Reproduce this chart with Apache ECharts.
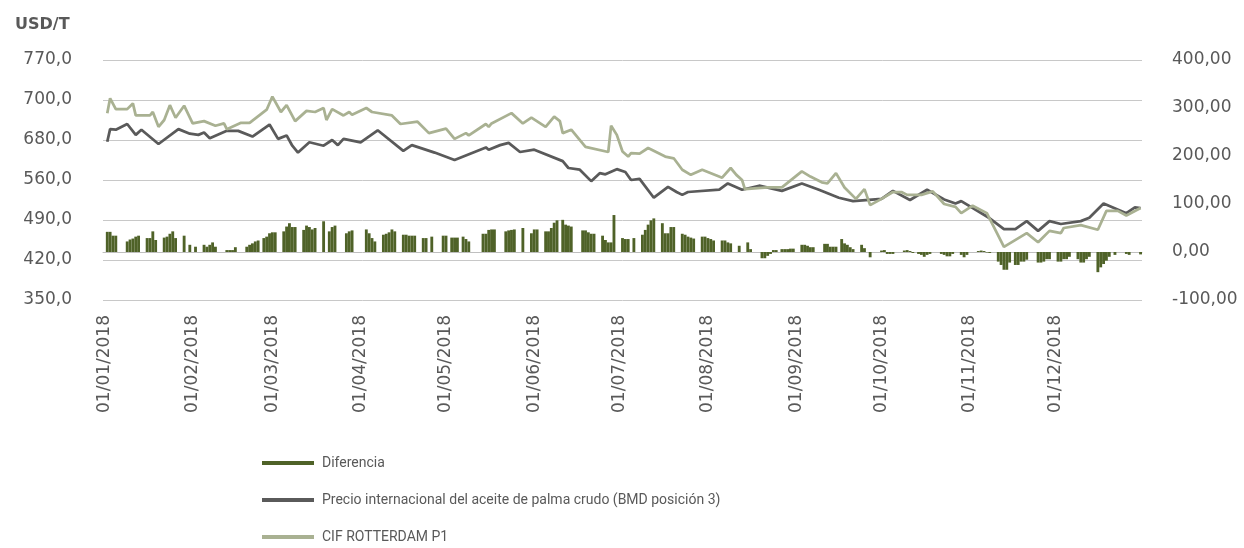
<!DOCTYPE html>
<html>
<head>
<meta charset="utf-8">
<script src="https://cdn.jsdelivr.net/npm/echarts@6/dist/echarts.min.js"></script>
<style>
  html, body { margin: 0; padding: 0; background: #fff; }
  #chart { width: 1244px; height: 548px; }
</style>
</head>
<body>
<div id="chart"></div>
<script>
// tick labels as printed on the original chart
const leftTickLabels = ['350,0', '420,0', '490,0', '560,0', '680,0', '700,0', '770,0']
const rightTickLabels = ['-100,00', '0,00', '100,00', '200,00', '300,00', '400,00']

// CIF ROTTERDAM P1 (USD/T)
const cifRotterdam = [
  ['02/01', 677], ['03/01', 703], ['05/01', 684], ['09/01', 684], ['11/01', 694], ['12/01', 673],
  ['17/01', 673], ['18/01', 679], ['20/01', 653], ['22/01', 665], ['24/01', 691], ['26/01', 669],
  ['29/01', 690], ['01/02', 659], ['05/02', 663], ['09/02', 655], ['12/02', 659], ['13/02', 649],
  ['18/02', 660], ['21/02', 660], ['27/02', 683], ['01/03', 706], ['04/03', 679], ['06/03', 691],
  ['09/03', 663], ['13/03', 681], ['16/03', 679], ['19/03', 686], ['20/03', 665], ['22/03', 684],
  ['26/03', 673], ['28/03', 679], ['29/03', 674], ['03/04', 686], ['05/04', 679], ['12/04', 673],
  ['15/04', 658], ['21/04', 662], ['25/04', 642], ['01/05', 650], ['04/05', 632], ['08/05', 642],
  ['09/05', 638], ['15/05', 658], ['16/05', 653], ['17/05', 659], ['24/05', 677], ['28/05', 659],
  ['31/05', 669], ['05/06', 653], ['08/06', 671], ['10/06', 663], ['11/06', 642], ['14/06', 648],
  ['19/06', 618], ['27/06', 609], ['28/06', 655], ['30/06', 639], ['02/07', 610], ['04/07', 601],
  ['05/07', 607], ['08/07', 606], ['11/07', 616], ['17/07', 601], ['20/07', 598], ['23/07', 578],
  ['26/07', 569], ['30/07', 578], ['06/08', 564], ['09/08', 581], ['11/08', 569], ['13/08', 560],
  ['14/08', 544], ['22/08', 547], ['27/08', 547], ['03/09', 575], ['06/09', 566], ['10/09', 556],
  ['12/09', 554], ['15/09', 572], ['18/09', 547], ['22/09', 527], ['25/09', 544], ['27/09', 516],
  ['01/10', 527], ['05/10', 539], ['08/10', 539], ['10/10', 534], ['15/10', 534], ['19/10', 540],
  ['23/10', 518], ['27/10', 513], ['29/10', 502], ['02/11', 515], ['07/11', 502], ['13/11', 443],
  ['21/11', 467], ['25/11', 451], ['29/11', 471], ['03/12', 467], ['04/12', 476], ['10/12', 481],
  ['16/12', 473], ['19/12', 506], ['23/12', 506], ['26/12', 498], ['31/12', 511]
]

// Precio internacional del aceite de palma crudo (BMD posicion 3) (USD/T)
const bmdPrecio = [
  ['02/01', 627], ['03/01', 649], ['05/01', 648], ['09/01', 658], ['12/01', 639], ['14/01', 648],
  ['20/01', 623], ['27/01', 649], ['31/01', 641], ['03/02', 639], ['05/02', 643], ['07/02', 633],
  ['13/02', 646], ['17/02', 646], ['22/02', 636], ['28/02', 657], ['03/03', 632], ['06/03', 638],
  ['08/03', 620], ['10/03', 608], ['14/03', 626], ['19/03', 620], ['22/03', 630], ['24/03', 621],
  ['26/03', 632], ['01/04', 626], ['07/04', 647], ['16/04', 611], ['19/04', 621], ['27/04', 608],
  ['04/05', 595], ['15/05', 617], ['16/05', 613], ['20/05', 621], ['23/05', 625], ['27/05', 609],
  ['01/06', 613], ['11/06', 593], ['13/06', 581], ['17/06', 578], ['21/06', 558], ['24/06', 572],
  ['26/06', 570], ['30/06', 579], ['03/07', 574], ['05/07', 560], ['08/07', 562], ['13/07', 529],
  ['18/07', 548], ['21/07', 539], ['23/07', 534], ['25/07', 539], ['05/08', 543], ['08/08', 554],
  ['13/08', 543], ['19/08', 550], ['27/08', 541], ['03/09', 554], ['09/09', 543], ['16/09', 529],
  ['21/09', 523], ['01/10', 527], ['05/10', 541], ['11/10', 525], ['17/10', 543], ['23/10', 526],
  ['27/10', 519], ['29/10', 523], ['08/11', 493], ['13/11', 474], ['17/11', 474], ['21/11', 488],
  ['25/11', 471], ['29/11', 488], ['03/12', 483], ['10/12', 488], ['13/12', 494], ['18/12', 519],
  ['26/12', 502], ['29/12', 512], ['31/12', 511]
]

// Diferencia (right axis)
const diferencia = [
  ['02/01', 42], ['03/01', 42], ['04/01', 34], ['05/01', 34],
  ['09/01', 22], ['10/01', 26], ['11/01', 28], ['12/01', 32], ['13/01', 34],
  ['16/01', 29], ['17/01', 29], ['18/01', 43], ['19/01', 25],
  ['22/01', 30], ['23/01', 32], ['24/01', 38], ['25/01', 43], ['26/01', 29],
  ['29/01', 34], ['31/01', 15], ['02/02', 11],
  ['05/02', 15], ['06/02', 11], ['07/02', 15], ['08/02', 20], ['09/02', 11],
  ['13/02', 4], ['14/02', 4], ['15/02', 4], ['16/02', 10],
  ['20/02', 11], ['21/02', 15], ['22/02', 18], ['23/02', 22], ['24/02', 24],
  ['26/02', 29], ['27/02', 32], ['28/02', 39], ['01/03', 41], ['02/03', 41],
  ['05/03', 43], ['06/03', 53], ['07/03', 60], ['08/03', 52], ['09/03', 52],
  ['12/03', 46], ['13/03', 55], ['14/03', 52], ['15/03', 47], ['16/03', 50],
  ['19/03', 64], ['21/03', 43], ['22/03', 52], ['23/03', 55],
  ['27/03', 39], ['28/03', 43], ['29/03', 45],
  ['03/04', 47], ['04/04', 39], ['05/04', 29], ['06/04', 22],
  ['09/04', 36], ['10/04', 38], ['11/04', 41], ['12/04', 47], ['13/04', 43],
  ['16/04', 36], ['17/04', 36], ['18/04', 34], ['19/04', 34], ['20/04', 34],
  ['23/04', 29], ['24/04', 29], ['26/04', 32], ['30/04', 34], ['01/05', 34],
  ['03/05', 30], ['04/05', 30], ['05/05', 30], ['07/05', 32], ['08/05', 27], ['09/05', 22],
  ['14/05', 38], ['15/05', 38], ['16/05', 46], ['17/05', 47], ['18/05', 47],
  ['22/05', 43], ['23/05', 45], ['24/05', 46], ['25/05', 47], ['28/05', 50],
  ['31/05', 39], ['01/06', 47], ['02/06', 47],
  ['05/06', 43], ['06/06', 43], ['07/06', 50], ['08/06', 61], ['09/06', 66],
  ['11/06', 67], ['12/06', 57], ['13/06', 55], ['14/06', 53],
  ['18/06', 45], ['19/06', 45], ['20/06', 41], ['21/06', 38], ['22/06', 38],
  ['25/06', 34], ['26/06', 25], ['27/06', 20], ['28/06', 20], ['29/06', 77],
  ['02/07', 29], ['03/07', 27], ['04/07', 27], ['06/07', 29],
  ['09/07', 36], ['10/07', 46], ['11/07', 57], ['12/07', 66], ['13/07', 70],
  ['16/07', 60], ['17/07', 39], ['18/07', 39], ['19/07', 52], ['20/07', 52],
  ['23/07', 38], ['24/07', 36], ['25/07', 32], ['26/07', 30], ['27/07', 28],
  ['30/07', 32], ['31/07', 32], ['01/08', 29], ['02/08', 27], ['03/08', 24],
  ['06/08', 24], ['07/08', 24], ['08/08', 20], ['09/08', 18], ['12/08', 13],
  ['15/08', 20], ['16/08', 6],
  ['20/08', -13], ['21/08', -13], ['22/08', -8], ['23/08', -4], ['24/08', 4], ['25/08', 4],
  ['27/08', 6], ['28/08', 6], ['29/08', 6], ['30/08', 7], ['31/08', 7],
  ['03/09', 15], ['04/09', 15], ['05/09', 13], ['06/09', 10], ['07/09', 10],
  ['11/09', 17], ['12/09', 17], ['13/09', 11], ['14/09', 11], ['15/09', 11],
  ['17/09', 27], ['18/09', 18], ['19/09', 15], ['20/09', 10], ['21/09', 6],
  ['24/09', 15], ['25/09', 8], ['27/09', -11],
  ['01/10', 3], ['02/10', 4], ['03/10', -4], ['04/10', -4], ['05/10', -4],
  ['09/10', 3], ['10/10', 4], ['11/10', 2], ['12/10', -2],
  ['14/10', -4], ['15/10', -6], ['16/10', -10], ['17/10', -6], ['18/10', -4],
  ['22/10', -4], ['23/10', -6], ['24/10', -9], ['25/10', -9], ['26/10', -4],
  ['29/10', -6], ['30/10', -11], ['31/10', -6],
  ['04/11', 2], ['05/11', 3], ['06/11', 2], ['07/11', -1], ['08/11', -2],
  ['11/11', -20], ['12/11', -27], ['13/11', -37], ['14/11', -37], ['15/11', -22],
  ['17/11', -27], ['18/11', -27], ['19/11', -20], ['20/11', -20], ['21/11', -16],
  ['25/11', -22], ['26/11', -22], ['27/11', -20], ['28/11', -15], ['29/11', -15],
  ['02/12', -20], ['03/12', -20], ['04/12', -15], ['05/12', -15], ['06/12', -10],
  ['09/12', -15], ['10/12', -22], ['11/12', -22], ['12/12', -15], ['13/12', -10],
  ['16/12', -42], ['17/12', -32], ['18/12', -25], ['19/12', -18], ['20/12', -10],
  ['22/12', -6], ['26/12', -4], ['27/12', -6], ['31/12', -5]
]

// one category per calendar day of 2018
const categories = []
for (let t = Date.UTC(2018, 0, 1); t < Date.UTC(2019, 0, 1); t += 86400000) {
  const d = new Date(t)
  const dd = String(d.getUTCDate()).padStart(2, '0')
  const mm = String(d.getUTCMonth() + 1).padStart(2, '0')
  categories.push(dd + '/' + mm + '/2018')
}

function toDaily (pairs) {
  const out = categories.map(() => null)
  pairs.forEach(([day, v]) => {
    const i = categories.indexOf(day + '/2018')
    if (i >= 0) out[i] = v
  })
  return out
}

const labelColor = '#595959'
const chart = echarts.init(document.getElementById('chart'))
chart.setOption({
  animation: false,
  title: {
    text: 'USD/T',
    left: 10,
    top: 12,
    textStyle: {
      fontFamily: 'DejaVu Sans',
      fontSize: 16,
      fontWeight: 'bold',
      color: labelColor
    }
  },
  legend: {
    orient: 'vertical',
    left: 262,
    top: 454,
    height: 120,
    padding: 0,
    icon: 'rect',
    itemWidth: 52,
    itemHeight: 4,
    itemGap: 19,
    data: ['Diferencia', 'Precio internacional del aceite de palma crudo (BMD posición 3)', 'CIF ROTTERDAM P1'],
    textStyle: {
      fontFamily: 'Roboto',
      fontSize: 14,
      lineHeight: 18,
      color: labelColor,
      padding: [0, 0, 0, 3]
    }
  },
  grid: {
    left: 103,
    right: 102,
    top: 60,
    height: 240
  },
  xAxis: {
    type: 'category',
    data: categories,
    boundaryGap: true,
    axisLine: { lineStyle: { color: '#bfbfbf', width: 1 } },
    axisTick: { show: false },
    axisLabel: {
      interval: (idx, val) => val.startsWith('01/'),
      rotate: 90,
      margin: 15,
      fontFamily: 'DejaVu Sans',
      fontSize: 17,
      color: labelColor
    }
  },
  yAxis: [
    {
      type: 'value',
      min: 350,
      max: 770,
      interval: 70,
      axisLine: { show: false },
      axisTick: { show: false },
      splitLine: { lineStyle: { color: '#c8c8c8', width: 1 } },
      axisLabel: {
        margin: 31,
        fontFamily: 'DejaVu Sans',
        fontSize: 17,
        color: labelColor,
        formatter: v => leftTickLabels[Math.round((v - 350) / 70)]
      }
    },
    {
      type: 'value',
      min: -100,
      max: 400,
      interval: 100,
      axisLine: { show: false },
      axisTick: { show: false },
      splitLine: { show: false },
      axisLabel: {
        margin: 30,
        fontFamily: 'DejaVu Sans',
        fontSize: 17,
        color: labelColor,
        formatter: v => rightTickLabels[Math.round((v + 100) / 100)]
      }
    }
  ],
  series: [
    {
      name: 'Diferencia',
      type: 'bar',
      yAxisIndex: 1,
      barWidth: '100%',
      itemStyle: { color: '#4f6228' },
      data: toDaily(diferencia)
    },
    {
      name: 'Precio internacional del aceite de palma crudo (BMD posición 3)',
      type: 'line',
      yAxisIndex: 0,
      connectNulls: true,
      showSymbol: false,
      symbol: 'none',
      lineStyle: { color: '#5a5a5a', width: 2.75 },
      itemStyle: { color: '#5a5a5a' },
      data: toDaily(bmdPrecio)
    },
    {
      name: 'CIF ROTTERDAM P1',
      type: 'line',
      yAxisIndex: 0,
      connectNulls: true,
      showSymbol: false,
      symbol: 'none',
      lineStyle: { color: '#a9b192', width: 2.75 },
      itemStyle: { color: '#a9b192' },
      data: toDaily(cifRotterdam)
    }
  ]
})
</script>
</body>
</html>
